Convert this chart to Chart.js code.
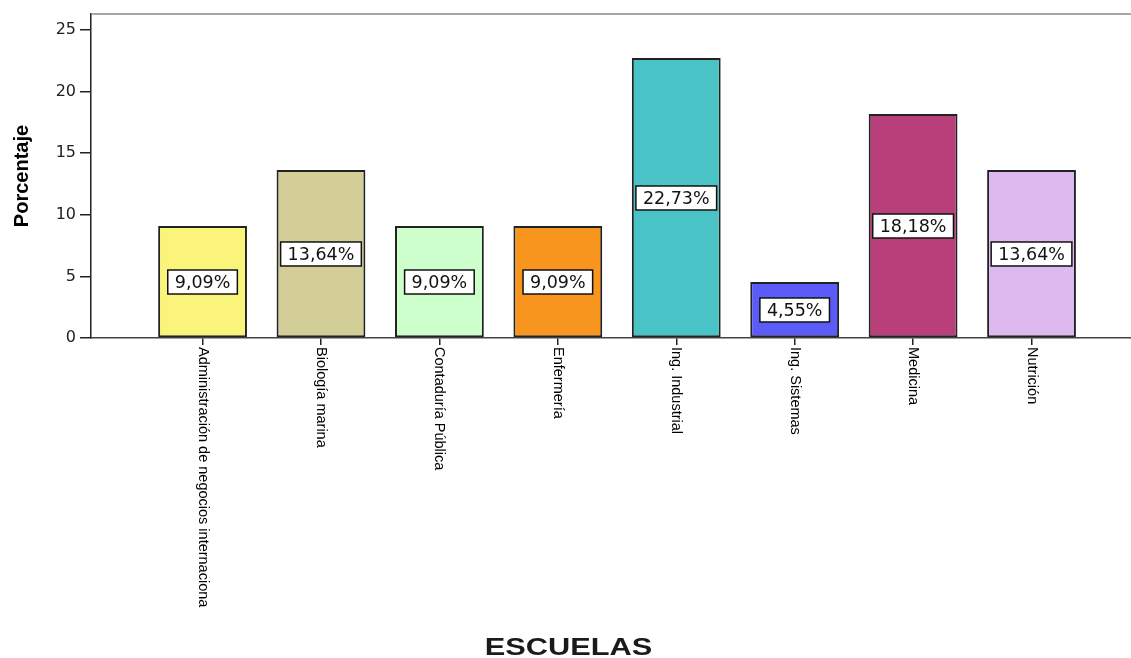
<!DOCTYPE html>
<html>
<head>
<meta charset="utf-8">
<script src="https://cdn.jsdelivr.net/npm/chart.js@4/dist/chart.umd.min.js"></script>
<style>
  html, body { margin: 0; padding: 0; background: #fff; overflow: hidden; }
  canvas { display: block; }
</style>
</head>
<body>
<canvas id="escuelas" width="1131" height="658"></canvas>
<script>
// Escuelas y su porcentaje
const escuelas = ['Administración de negocios internaciona', 'Biología marina', 'Contaduría Pública',
  'Enfermería', 'Ing. Industrial', 'Ing. Sistemas', 'Medicina', 'Nutrición'];
const porcentajes = [9.09, 13.64, 9.09, 9.09, 22.73, 4.55, 18.18, 13.64];
const colores = ['#FAF57A', '#D3CE98', '#CCFFCC', '#F7951F', '#4AC3C6', '#5B5BFA', '#B93F7B', '#DDB9EF'];
const yTicks = [0, 5, 10, 15, 20, 25];

const fmt = (v) => v.toFixed(2).replace('.', ',') + '%';

const extras = {
  id: 'extras',
  beforeDatasetsDraw(chart) {
    const {ctx, chartArea} = chart;
    // top frame line
    ctx.save();
    ctx.strokeStyle = '#8a8a8a';
    ctx.lineWidth = 1.5;
    ctx.beginPath();
    ctx.moveTo(chartArea.left, chartArea.top);
    ctx.lineTo(chartArea.right, chartArea.top);
    ctx.stroke();
    ctx.restore();
  },
  afterDatasetsDraw(chart) {
    const {ctx, scales: {x, y}} = chart;
    ctx.save();
    // value boxes in the middle of each bar
    ctx.font = '17.5px "DejaVu Sans"';
    ctx.textAlign = 'center';
    ctx.textBaseline = 'middle';
    porcentajes.forEach((v, i) => {
      const cx = x.getPixelForValue(i);
      const cy = y.getPixelForValue(v / 2);
      const txt = fmt(v);
      const w = ctx.measureText(txt).width + 14;
      const h = 24;
      ctx.fillStyle = '#fff';
      ctx.fillRect(cx - w / 2, cy - h / 2, w, h);
      ctx.strokeStyle = '#111';
      ctx.lineWidth = 1.5;
      ctx.strokeRect(cx - w / 2, cy - h / 2, w, h);
      ctx.fillStyle = '#111';
      ctx.fillText(txt, cx, cy + 1);
    });

    // category names, rotated to read downwards
    ctx.font = '14.5px "Liberation Sans", Arial, sans-serif';
    ctx.textAlign = 'left';
    ctx.textBaseline = 'middle';
    ctx.fillStyle = '#000';
    escuelas.forEach((name, i) => {
      ctx.save();
      ctx.translate(x.getPixelForValue(i), y.bottom + 9);
      ctx.rotate(Math.PI / 2);
      ctx.fillText(name, 0, 0);
      ctx.restore();
    });

    // x axis title, drawn wide
    ctx.save();
    ctx.font = 'bold 24px "Liberation Sans", Arial, sans-serif';
    ctx.textAlign = 'center';
    ctx.textBaseline = 'alphabetic';
    ctx.fillStyle = '#1a1a1a';
    ctx.translate(chart.width / 2 + 3, 655);
    ctx.scale(1.28, 1);
    ctx.fillText('ESCUELAS', 0, 0);
    ctx.restore();
    ctx.restore();
  }
};

new Chart('escuelas', {
  type: 'bar',
  data: {
    labels: escuelas,
    datasets: [{
      data: porcentajes.map((v, i) => ({x: i, y: v})),
      backgroundColor: colores,
      borderColor: '#222',
      borderWidth: 2,
      borderSkipped: false,
      categoryPercentage: 1,
      barPercentage: 0.75
    }]
  },
  options: {
    responsive: false,
    animation: false,
    layout: {padding: {top: 14, right: 0, bottom: 313, left: 0}},
    plugins: {legend: {display: false}, tooltip: {enabled: false}},
    scales: {
      x: {
        type: 'linear',
        offset: false,
        min: -0.942,
        max: 7.84,
        afterBuildTicks: (scale) => { scale.ticks = escuelas.map((_, i) => ({value: i})); },
        ticks: {display: false},
        grid: {display: true, offset: false, drawOnChartArea: false, drawTicks: true, tickLength: 7, color: '#222', lineWidth: 1.5},
        border: {display: true, color: '#444', width: 1.5}
      },
      y: {
        min: 0,
        max: 26.3,
        afterBuildTicks: (scale) => { scale.ticks = yTicks.map(v => ({value: v})); },
        afterFit: (scale) => { scale.width = 91; },
        ticks: {
          color: '#222',
          padding: 4,
          font: {family: '"DejaVu Sans"', size: 16}
        },
        grid: {display: true, drawOnChartArea: false, drawTicks: true, tickLength: 11, color: '#222', lineWidth: 1.5},
        border: {display: true, color: '#222', width: 1.5},
        title: {
          display: true,
          text: 'Porcentaje',
          color: '#000',
          padding: {top: 10, bottom: 0},
          font: {family: '"Liberation Sans", Arial, sans-serif', size: 20, weight: 'bold'}
        }
      }
    }
  },
  plugins: [extras]
});
</script>
</body>
</html>
